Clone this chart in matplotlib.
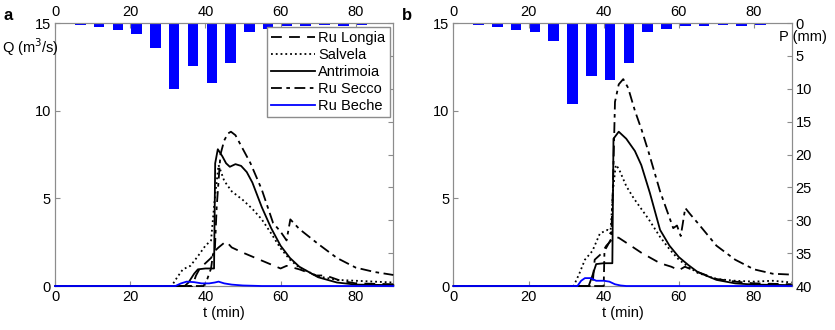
import matplotlib
matplotlib.use("Agg")
import matplotlib.pyplot as plt

plt.rcParams["font.family"] = ["Liberation Sans", "DejaVu Sans"]

# rainfall bars (mm), same time positions in both panels
rain_t = [6.7, 11.7, 16.7, 21.7, 26.7, 31.7, 36.7, 41.7, 46.7, 51.7, 56.7, 61.7, 66.7, 71.7, 76.7, 81.7]
rain_a = [0.25, 0.55, 1.0, 1.7, 3.8, 10.1, 6.5, 9.2, 6.1, 1.3, 0.87, 0.45, 0.45, 0.3, 0.45, 0.3]
rain_b = [0.25, 0.6, 1.0, 1.3, 2.7, 12.3, 8.0, 8.7, 6.1, 1.4, 0.85, 0.4, 0.4, 0.3, 0.4, 0.3]

# --- panel a hydrographs ---
longia_a_t = [0, 36.5, 37.5, 38.5, 40, 41.5, 42.5, 43.5, 45.5, 47, 50, 55, 60, 61.6, 65, 69.5, 72, 74, 76, 80, 90]
longia_a_q = [0, 0, 0.6, 1.0, 1.3, 1.6, 2.0, 2.2, 2.55, 2.2, 1.9, 1.45, 1.0, 1.15, 0.95, 0.6, 0.6, 0.45, 0.3, 0.15, 0.1]
salvela_a_t = [0, 31, 32.5, 34, 36, 38, 40, 41.5, 42.5, 43.5, 45, 47, 50, 52.5, 55, 57.5, 60, 62.5, 65, 70, 75, 80, 85, 90]
salvela_a_q = [0, 0, 0.5, 0.95, 1.15, 1.7, 2.3, 2.6, 5.0, 6.9, 6.0, 5.4, 4.9, 4.4, 3.8, 3.0, 2.15, 1.5, 1.05, 0.55, 0.35, 0.3, 0.25, 0.2]
antri_a_t = [0, 34.5, 35.5, 37, 38, 40, 42.3, 42.6, 43.3, 44.5, 45.5, 46.5, 48, 49.5, 51, 52.5, 55, 57.5, 60, 62.5, 65, 67.5, 70, 75, 80, 90]
antri_a_q = [0, 0, 0.2, 0.7, 0.95, 1.0, 1.0, 7.0, 7.8, 7.4, 7.0, 6.8, 6.95, 6.85, 6.5, 5.9, 4.5, 3.3, 2.3, 1.6, 1.1, 0.8, 0.5, 0.2, 0.08, 0.05]
secco_a_t = [0, 39.5, 40.5, 41.5, 42, 42.5, 43, 44, 45, 46, 46.8, 48, 50, 52, 55, 58, 60, 61.6, 62.6, 65, 70, 75, 80, 85, 90]
secco_a_q = [0, 0, 0.4, 1.0, 1.8, 2.0, 4.5, 7.5, 8.3, 8.7, 8.8, 8.6, 7.8, 7.0, 5.5, 3.6, 3.1, 2.6, 3.8, 3.25, 2.4, 1.6, 1.05, 0.8, 0.63]
beche_a_t = [0, 32, 33.5, 35, 37, 39, 41, 42.5, 43.5, 45, 47, 50, 55, 90]
beche_a_q = [0, 0, 0.15, 0.25, 0.22, 0.15, 0.15, 0.2, 0.25, 0.15, 0.08, 0.03, 0, 0]

# --- panel b hydrographs ---
longia_b_t = [0, 37, 37.6, 39.4, 40.7, 42, 43, 44, 46.5, 50, 55, 58, 60, 61.6, 65, 70, 75, 80, 90]
longia_b_q = [0, 0, 1.5, 1.85, 2.3, 2.6, 2.8, 2.75, 2.4, 1.9, 1.3, 1.1, 0.9, 1.1, 0.8, 0.4, 0.25, 0.15, 0.1]
salvela_b_t = [0, 32, 33.5, 35, 37, 39, 41, 41.8, 42.5, 43.2, 44, 46, 48, 50, 52, 55, 57.5, 60, 62.5, 65, 70, 75, 80, 85, 90]
salvela_b_q = [0, 0, 0.7, 1.5, 2.0, 3.0, 3.2, 3.0, 5.5, 6.9, 6.7, 5.7, 5.0, 4.4, 3.8, 2.8, 2.1, 1.5, 1.1, 0.75, 0.4, 0.3, 0.25, 0.3, 0.2]
antri_b_t = [0, 36, 37, 38, 40, 42.3, 42.6, 44, 46, 48.3, 50, 52.3, 55, 57.5, 60, 62.5, 65, 70, 75, 80, 90]
antri_b_q = [0, 0, 0.6, 1.25, 1.3, 1.3, 8.4, 8.8, 8.4, 7.7, 6.9, 5.3, 3.2, 2.3, 1.65, 1.2, 0.8, 0.35, 0.15, 0.08, 0.05]
secco_b_t = [0, 40, 40.2, 41, 42, 42.5, 43, 44, 45.2, 46.5, 48.3, 50.1, 52, 55, 57, 58.5, 59.5, 60.5, 61, 61.7, 63, 65, 70, 75, 80, 85, 90]
secco_b_q = [0, 0, 2.0, 2.3, 2.7, 6.0, 10.5, 11.5, 11.8, 11.3, 10.0, 8.9, 7.6, 5.4, 4.2, 3.3, 3.45, 2.85, 3.5, 4.45, 4.1, 3.6, 2.3, 1.5, 0.95, 0.7, 0.65]
beche_b_t = [0, 33, 34, 35, 36.5, 38, 40, 41.5, 43, 44.5, 46, 90]
beche_b_q = [0, 0, 0.3, 0.45, 0.45, 0.3, 0.3, 0.25, 0.1, 0.03, 0, 0]

panels = [
    ("a", rain_a, [longia_a_t, salvela_a_t, antri_a_t, secco_a_t, beche_a_t],
     [longia_a_q, salvela_a_q, antri_a_q, secco_a_q, beche_a_q]),
    ("b", rain_b, [longia_b_t, salvela_b_t, antri_b_t, secco_b_t, beche_b_t],
     [longia_b_q, salvela_b_q, antri_b_q, secco_b_q, beche_b_q]),
]
names = ["Ru Longia", "Salvela", "Antrimoia", "Ru Secco", "Ru Beche"]
styles = [dict(color="k", dashes=(6, 4)),
          dict(color="k", linestyle=":"),
          dict(color="k", linestyle="-"),
          dict(color="k", dashes=(6, 2.5, 2, 2.5)),
          dict(color="#0000ff", linestyle="-")]

fs = 10.5
grey = "0.55"
fig = plt.figure(figsize=(8.35, 3.3), dpi=100)
lefts = [0.066, 0.543]

for i, (letter, rain, ts, qs) in enumerate(panels):
    ax = fig.add_axes([lefts[i], 0.1333, 0.405, 0.797])
    ax2 = ax.twinx()
    ax2.bar(rain_t, rain, width=2.8, color="#0000ff", zorder=1)
    ax2.set_ylim(40, 0)
    ax2.set_yticks(range(0, 41, 5))
    ax2.tick_params(direction="in", labelsize=fs, colors=grey, labelcolor="k", pad=3)
    if i == 0:
        ax2.set_yticklabels([])

    for t, q, name, st in zip(ts, qs, names, styles):
        ax.plot(t, q, lw=1.3, label=name, clip_on=False, zorder=3, **st)
    ax.set_xlim(0, 90)
    ax.set_ylim(0, 15)
    ax.set_xticks([0, 20, 40, 60, 80])
    ax.set_yticks([0, 5, 10, 15])
    ax.tick_params(direction="in", labelsize=fs, colors=grey, labelcolor="k",
                   top=True, labeltop=True, pad=3)
    ax.set_xlabel("t (min)", fontsize=fs, labelpad=1)
    for sp in list(ax.spines.values()) + list(ax2.spines.values()):
        sp.set_color(grey)
    ax.set_zorder(ax2.get_zorder() + 1)
    ax.patch.set_visible(False)

    if i == 0:
        leg = ax.legend(loc="upper right", fontsize=fs, handlelength=3.0,
                        handletextpad=0.2, labelspacing=0.2, borderaxespad=0.25,
                        borderpad=0.3, fancybox=False, framealpha=1)
        leg.get_frame().set_edgecolor(grey)
        leg.set_zorder(5)

    fig.text(lefts[i] - 0.062, 0.975, letter, fontsize=12, fontweight="bold", va="top")

fig.text(0.002, 0.857, "Q (m$^3$/s)", fontsize=fs, va="center")
fig.text(0.933, 0.888, "P (mm)", fontsize=fs, va="center")

fig.savefig("out.png", dpi=100)
